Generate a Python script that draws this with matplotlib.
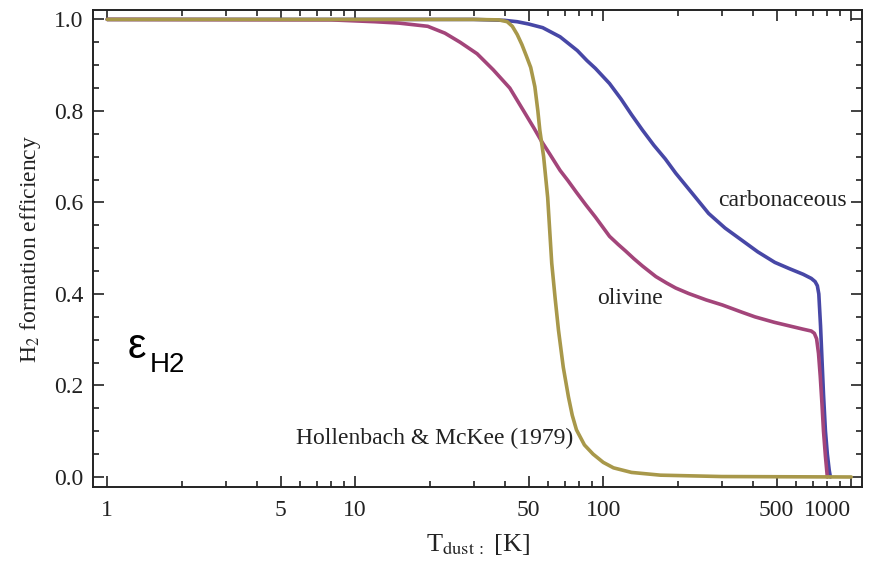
import matplotlib
import numpy as np

matplotlib.use("Agg")
import matplotlib.pyplot as plt  # noqa: E402
from matplotlib.ticker import FixedLocator, NullFormatter  # noqa: E402

# dust temperature [K] and H2 formation efficiency
t_carb = [1, 30, 40, 45, 50, 57, 67, 78.6, 86, 93, 106, 118, 130, 144, 160,
          178, 196, 230, 266, 310, 363, 420, 492, 565, 640, 690, 715, 730,
          740, 752, 763, 773, 787, 801, 815, 824]
eps_carb = [1.0, 1.0, 0.998, 0.995, 0.99, 0.982, 0.962, 0.932, 0.91, 0.893,
            0.86, 0.826, 0.792, 0.758, 0.725, 0.695, 0.664, 0.618, 0.576,
            0.544, 0.517, 0.492, 0.469, 0.455, 0.443, 0.434, 0.427, 0.418,
            0.40, 0.33, 0.25, 0.18, 0.10, 0.05, 0.015, 0.0]

t_oliv = [1, 8, 12, 15, 19.6, 23, 26.5, 31, 36, 42, 49, 52.5, 56.5, 61, 67,
          72, 78, 85, 93, 106, 115, 123, 133, 144, 163, 180, 196, 221, 260,
          302, 363, 409, 490, 565, 640, 690, 710, 725, 738, 750, 762, 773,
          787, 801]
eps_oliv = [1.0, 0.999, 0.995, 0.992, 0.985, 0.97, 0.95, 0.925, 0.89, 0.85,
            0.79, 0.763, 0.733, 0.705, 0.67, 0.648, 0.622, 0.595, 0.568,
            0.526, 0.508, 0.494, 0.477, 0.461, 0.438, 0.424, 0.413, 0.401,
            0.387, 0.376, 0.36, 0.35, 0.338, 0.33, 0.323, 0.319, 0.314, 0.302,
            0.27, 0.22, 0.16, 0.10, 0.045, 0.0]

t_hm = [1, 10, 30, 38, 41, 43, 45, 47, 49, 51, 53, 54.5, 55.5, 57.5, 59.7, 62,
        64, 66, 69, 72.4, 75, 78, 84, 91, 100, 110, 130, 170, 300, 1000]
eps_hm = [1.0, 1.0, 1.0, 0.999, 0.995, 0.985, 0.967, 0.945, 0.92, 0.895,
          0.853, 0.80, 0.758, 0.70, 0.611, 0.467, 0.39, 0.321, 0.24, 0.175,
          0.135, 0.103, 0.07, 0.05, 0.032, 0.02, 0.01, 0.004, 0.001, 0.0]

x_major = [1, 5, 10, 50, 100, 500, 1000]
x_minor = [2, 3, 4, 6, 7, 8, 9, 20, 30, 40, 60, 70, 80, 90, 200, 300, 400,
           600, 700, 800, 900]
y_major = [0.0, 0.2, 0.4, 0.6, 0.8, 1.0]

serif = ["Liberation Serif", "DejaVu Serif"]
sans = ["Liberation Sans", "DejaVu Sans"]
plt.rcParams["font.family"] = serif
plt.rcParams["mathtext.fontset"] = "stix"
ink = "#222222"

fig = plt.figure(figsize=(8.71, 5.71), dpi=100)
ax = fig.add_axes([0.107, 0.147, 0.883, 0.835])

ax.plot(t_carb, eps_carb, color="#4747a6", lw=2.6, solid_capstyle="round")
ax.plot(t_oliv, eps_oliv, color="#a3457a", lw=2.6, solid_capstyle="round")
ax.plot(t_hm, eps_hm, color="#a8984a", lw=2.6, solid_capstyle="round")

ax.set_xscale("log")
ax.set_xlim(0.878, 1108)
ax.set_ylim(-0.022, 1.02)

ax.xaxis.set_major_locator(FixedLocator(x_major))
ax.xaxis.set_minor_locator(FixedLocator(x_minor))
ax.xaxis.set_minor_formatter(NullFormatter())
ax.set_xticklabels([str(v) for v in x_major])
ax.set_yticks(y_major)
ax.set_yticks(np.arange(0, 1.01, 0.05), minor=True)
ax.set_yticklabels([f"{v:.1f}" for v in y_major])

ax.tick_params(which="both", direction="in", top=True, right=True,
               colors=ink, labelsize=17, width=1.2)
ax.tick_params(which="major", length=8)
ax.tick_params(which="minor", length=4.5)
ax.tick_params(axis="x", which="major", pad=9)
ax.tick_params(axis="y", which="major", pad=7)
for sp in ax.spines.values():
    sp.set_linewidth(1.4)
    sp.set_color(ink)

# keep the last x label inside the picture, as the original does
ax.get_xticklabels()[-1].set_horizontalalignment("right")

ax.set_ylabel(r"H$_2$ formation efficiency", fontsize=17, color=ink,
              labelpad=8)
ax.set_xlabel(r"T$_{\mathrm{dust}\,:}$ [K]", fontsize=19, color=ink,
              labelpad=8)

ax.text(530, 0.605, "carbonaceous", fontsize=17, ha="center", va="center",
        color=ink)
ax.text(128, 0.39, "olivine", fontsize=17, ha="center", va="center",
        color=ink)
ax.text(20.9, 0.085, "Hollenbach & McKee (1979)", fontsize=17, ha="center",
        va="center", color=ink)

ax.text(0.045, 0.293, "ε", transform=ax.transAxes, fontsize=30,
        family=sans, ha="left", va="center")
ax.text(0.074, 0.256, "H2", transform=ax.transAxes, fontsize=20,
        family=sans, ha="left", va="center")

fig.savefig("out.png", dpi=100)
